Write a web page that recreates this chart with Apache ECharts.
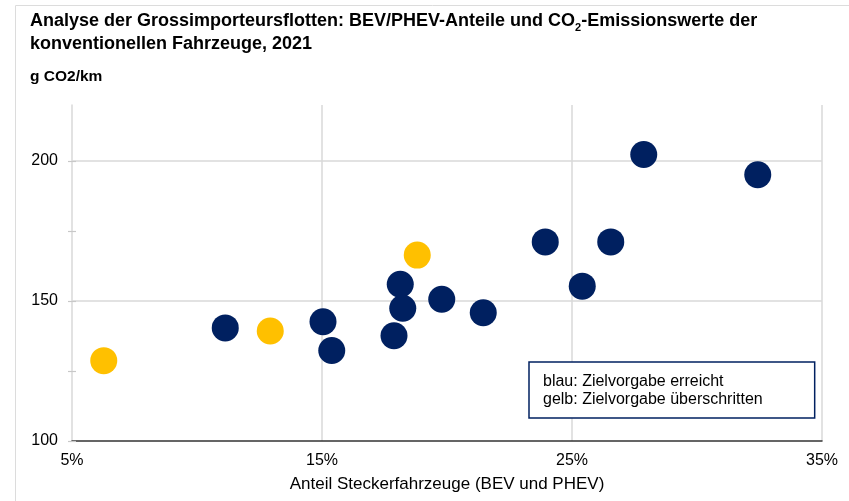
<!DOCTYPE html>
<html>
<head>
<meta charset="utf-8">
<script src="https://cdn.jsdelivr.net/npm/echarts@6/dist/echarts.min.js"></script>
<style>
    html, body { margin: 0; padding: 0; background: #fff; }
    #chart { width: 849px; height: 501px; }
</style>
</head>
<body>
<div id="chart"></div>
<script>
// Anteil Steckerfahrzeuge (%) / g CO2/km
const blueShare = [11.13, 15.04, 15.39, 17.88, 18.13, 18.23, 19.79, 21.45, 23.93, 25.41, 26.55, 27.87, 32.43];
const blueCo2 = [140.4, 142.6, 132.3, 137.6, 156.0, 147.4, 150.6, 145.8, 171.1, 155.3, 171.1, 202.3, 195.1];
const yellowShare = [6.27, 12.93, 18.81];
const yellowCo2 = [128.7, 139.3, 166.4];

const seriesNames = ['blau: Zielvorgabe erreicht', 'gelb: Zielvorgabe überschritten'];

const NAVY = '#002060';
const YELLOW = '#FFC000';
const GRID_COLOR = '#d9d9d9';
const FONT = '"Liberation Sans", Arial, sans-serif';

const toPoints = function (xs, ys) {
    return xs.map((x, i) => [x, ys[i]]);
};

const chart = echarts.init(document.getElementById('chart'));

chart.setOption({
    animation: false,
    textStyle: {
        fontFamily: FONT
    },

    // frame round the whole picture
    graphic: [{
        type: 'rect',
        shape: { x: 15.5, y: 5.5, width: 900, height: 600 },
        style: { fill: 'none', stroke: '#dcdcdc', lineWidth: 1 },
        silent: true,
        z: -10
    }],

    title: [{
        left: 25,
        top: 5,
        text: '{b|Analyse der Grossimporteursflotten: BEV/PHEV-Anteile und CO}{s|2}{b|-Emissionswerte der}\n{b|konventionellen Fahrzeuge, 2021}',
        textStyle: {
            rich: {
                b: { fontFamily: FONT, fontWeight: 'bold', fontSize: 18, color: '#000', lineHeight: 23 },
                s: { fontFamily: FONT, fontWeight: 'bold', fontSize: 11, color: '#000', lineHeight: 23, verticalAlign: 'bottom', padding: [9, 0, 0, 0] }
            }
        }
    }, {
        left: 25,
        top: 64,
        text: 'g CO2/km',
        textStyle: { fontFamily: FONT, fontWeight: 'bold', fontSize: 15.5, color: '#000' }
    }],

    legend: {
        data: seriesNames,
        orient: 'vertical',
        left: 529,
        top: 362,
        icon: 'none',
        itemWidth: 0,
        itemHeight: 16,
        itemGap: 2,
        padding: [12, 52, 10, 9],
        backgroundColor: '#fff',
        borderColor: NAVY,
        borderWidth: 1.5,
        borderRadius: 0,
        selectedMode: false,
        textStyle: { fontFamily: FONT, fontSize: 16, color: '#000' }
    },

    // main grid + a second one that only carries the 25er ticks up to 200
    grid: [
        { left: 72, right: 27, top: 105, bottom: 60 },
        { left: 72, right: 27, top: 161, bottom: 60 }
    ],

    xAxis: [{
        gridIndex: 0,
        type: 'value',
        min: 5,
        max: 35,
        interval: 10,
        name: 'Anteil Steckerfahrzeuge (BEV und PHEV)',
        nameLocation: 'middle',
        nameGap: 35,
        nameTextStyle: { fontFamily: FONT, fontSize: 17, color: '#000' },
        axisLine: { lineStyle: { color: '#333', width: 1.5 } },
        axisTick: { show: false },
        axisLabel: {
            formatter: '{value}%',
            margin: 12,
            fontFamily: FONT,
            fontSize: 16,
            color: '#000'
        },
        splitLine: {
            show: true,
            showMinLine: false,
            lineStyle: { color: GRID_COLOR, width: 1.5 }
        }
    }, {
        gridIndex: 1,
        type: 'value',
        min: 5,
        max: 35,
        show: false
    }],

    yAxis: [{
        gridIndex: 0,
        type: 'value',
        min: 100,
        max: 220,
        interval: 50,
        axisLine: { show: true, lineStyle: { color: GRID_COLOR, width: 1.5 } },
        axisTick: { show: false },
        axisLabel: {
            showMaxLabel: false,
            margin: 14,
            fontFamily: FONT,
            fontSize: 16,
            color: '#000'
        },
        splitLine: {
            show: true,
            showMinLine: false,
            showMaxLine: false,
            lineStyle: { color: GRID_COLOR, width: 1.5 }
        }
    }, {
        gridIndex: 1,
        type: 'value',
        min: 100,
        max: 200,
        interval: 25,
        offset: -4,
        axisLine: { show: false },
        axisTick: { show: true, length: 8, lineStyle: { color: '#c8c8c8', width: 1.2 } },
        axisLabel: { show: false },
        splitLine: { show: false }
    }],

    series: [{
        name: seriesNames[0],
        type: 'scatter',
        xAxisIndex: 0,
        yAxisIndex: 0,
        symbolSize: 27,
        itemStyle: { color: NAVY, opacity: 1 },
        data: toPoints(blueShare, blueCo2)
    }, {
        name: seriesNames[1],
        type: 'scatter',
        xAxisIndex: 0,
        yAxisIndex: 0,
        symbolSize: 27,
        itemStyle: { color: YELLOW, opacity: 1 },
        data: toPoints(yellowShare, yellowCo2)
    }]
});
</script>
</body>
</html>
